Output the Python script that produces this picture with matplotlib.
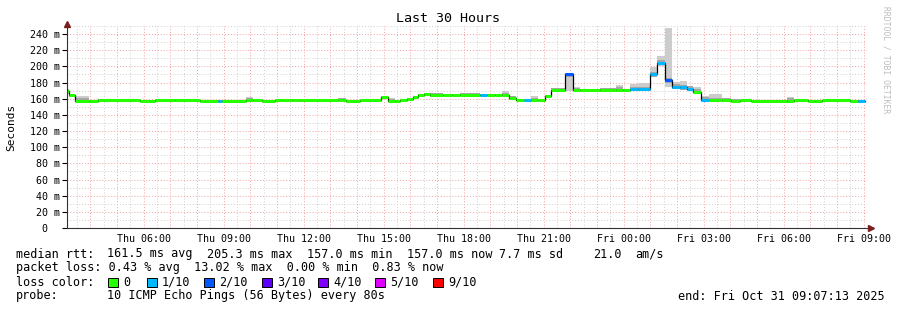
import numpy as np
import matplotlib
matplotlib.use("Agg")
import matplotlib.pyplot as plt
from matplotlib.patches import Rectangle
from matplotlib.ticker import FixedLocator, FuncFormatter

plt.rcParams['font.family'] = ['DejaVu Sans Mono']

# segment start, hours since Thu 00:00
seg_start = [3.12, 3.20, 3.42, 3.95, 4.28, 5.86, 6.42, 7.17, 8.11, 8.78, 8.93,
             9.83, 10.10, 10.43, 10.92, 11.56, 11.86, 13.28, 13.58, 14.11, 14.90,
             15.16, 15.42, 15.61, 15.87, 16.10, 16.28, 16.51, 16.73, 17.22, 17.56,
             17.86, 18.61, 18.87, 19.17, 19.43, 19.70, 19.96, 20.26, 20.52, 20.78,
             21.05, 21.27, 21.80, 22.10, 22.36, 23.11, 23.71, 23.97, 24.23, 24.53,
             24.98, 25.25, 25.55, 25.81, 26.11, 26.37, 26.60, 26.90, 27.20, 27.68,
             28.02, 28.36, 28.77, 30.12, 30.38, 30.91, 31.17, 31.43, 32.48, 32.78]
seg_end = 33.05
# median rtt (ms)
median = [170, 164, 157.5, 157.5, 158.5, 157.5, 158.3, 158, 157.5, 157.5, 157.5,
          158, 158, 157.5, 158.3, 157.8, 158, 158, 157.5, 157.8, 162,
          157, 157, 158.5, 159.5, 162, 164.5, 166, 164, 164, 164,
          164, 164, 164, 164, 164, 161, 158.4, 158.4, 158.4, 158.4,
          163.5, 170.5, 190, 170.5, 170.5, 170.5, 171, 170.5, 171.5, 172,
          190.5, 204.5, 183, 175, 174, 172.5, 168.5, 159, 158.5, 158.3,
          157.7, 158, 157.3, 157.3, 158.3, 157.3, 156.8, 158.3, 157.3, 157.3]
# loss class (index into loss colors)
loss = [0, 0, 0, 0, 0, 0, 0, 0, 0, 1, 0,
        0, 0, 0, 0, 0, 0, 0, 0, 0, 0,
        0, 0, 0, 0, 0, 0, 0, 0, 0, 0,
        0, 1, 0, 0, 0, 0, 0, 1, 0, 0,
        0, 0, 2, 0, 0, 0, 0, 0, 1, 1,
        1, 1, 2, 1, 1, 1, 0, 1, 0, 0,
        0, 0, 0, 0, 0, 0, 0, 0, 0, 1]
# smoke range (min / max ping)
smoke_lo = [166, 162, 156, 156.5, 157, 156.5, 157, 157, 156.5, 156.5, 156.5,
            157, 157, 156.5, 157, 157, 157, 157, 156.5, 157, 160,
            156, 156, 157.5, 158, 160.5, 163, 164.5, 162.5, 163, 163,
            163, 163, 163, 163, 163, 159, 157, 157, 157, 157,
            162, 169, 170, 169, 169, 169, 169, 169, 169.5, 170,
            187, 200, 175, 171.5, 171, 170, 167, 157, 157, 157,
            156.5, 157, 156.5, 156.5, 157.5, 156.5, 156, 157.5, 156.5, 156.5]
smoke_hi = [172, 166, 163, 159, 159.5, 158.5, 159, 158.5, 158.5, 158.5, 158.5,
            162, 159, 158.5, 159, 158.5, 158.5, 161, 158.5, 158.5, 163,
            161, 158, 159.5, 161, 163, 165.5, 167, 167, 165.5, 166,
            167, 166, 166, 166, 169.5, 163, 159, 159, 163.5, 159,
            165, 173, 191.5, 174, 172, 173, 177, 172, 178, 179,
            199.5, 213, 248, 181, 182, 176, 175, 163, 165.5, 161,
            160, 159, 158.5, 161.7, 159, 158.5, 157.5, 159, 158.5, 158.5]

loss_colors = ['#26ff00', '#00b8ff', '#0059ff', '#5e00ff', '#7e00ff', '#dd00ff', '#ff0000']
loss_labels = ['0', '1/10', '2/10', '3/10', '4/10', '5/10', '9/10']

t_start = 3 + 7 / 60 + 13 / 3600
t_end = t_start + 30

W, H = 897, 310
fig = plt.figure(figsize=(W / 100, H / 100), dpi=100)
ax = fig.add_axes([67 / W, 82 / H, 800 / W, 202 / H])

x = np.array(seg_start + [seg_end])
med = np.array(median + [median[-1]])
lo = np.array(smoke_lo + [smoke_lo[-1]])
hi = np.array(smoke_hi + [smoke_hi[-1]])
dlo = np.maximum(lo, med - 3)
dhi = np.minimum(hi, med + 3)

ax.fill_between(x, lo, hi, step='post', color='#cccccc', lw=0)
ax.fill_between(x, dlo, dhi, step='post', color='#a6a6a6', lw=0)
ax.step(x, med, where='post', color='black', lw=0.9)
ax.hlines(median, seg_start, seg_start[1:] + [seg_end],
          colors=[loss_colors[i] for i in loss], lw=2.2, capstyle='butt')

ax.set_xlim(t_start, t_end)
ax.set_ylim(0, 250)

# grid
ax.xaxis.set_major_locator(FixedLocator(np.arange(4, 34, 1)))
ax.xaxis.set_minor_locator(FixedLocator(np.arange(3.5, 33.5, 1)))
ax.yaxis.set_major_locator(FixedLocator(np.arange(0, 241, 20)))
ax.yaxis.set_minor_locator(FixedLocator(np.arange(10, 251, 20)))
ax.grid(which='major', color='#f3a0a0', lw=0.7, ls=(0, (1, 2)))
ax.grid(which='minor', color='#cfcfcf', lw=0.7, ls=(0, (1, 2)))
ax.set_axisbelow(True)


def xfmt(h, pos):
    h = int(round(h))
    if h % 3:
        return ''
    return '%s %02d:00' % ('Thu' if h < 24 else 'Fri', h % 24)


def yfmt(v, pos):
    return '0  ' if v == 0 else '%d m' % v


ax.xaxis.set_major_formatter(FuncFormatter(xfmt))
ax.yaxis.set_major_formatter(FuncFormatter(yfmt))
ax.tick_params(axis='x', which='both', length=0, pad=4, labelsize=7.2)
ax.tick_params(axis='y', which='major', length=3.5, width=0.8, pad=1.5, labelsize=7.2)
ax.tick_params(axis='y', which='minor', length=0)

for s in ['top', 'right']:
    ax.spines[s].set_visible(False)
ax.spines['left'].set_color('#333333')
ax.spines['bottom'].set_color('#333333')
ax.plot([0], [1.01], marker='^', ms=4, color='#7a1f1f', transform=ax.transAxes, clip_on=False)
ax.plot([1.005], [0], marker='>', ms=4, color='#7a1f1f', transform=ax.transAxes, clip_on=False)

fig.text(448 / W, 1 - 19 / H, 'Last 30 Hours', ha='center', va='center', fontsize=9.6)
fig.text(11 / W, 1 - 127 / H, 'Seconds', rotation=90, ha='center', va='center', fontsize=8)
fig.text(886 / W, 1 - 60 / H, 'RRDTOOL / TOBI OETIKER', rotation=270, ha='center',
         va='center', fontsize=5.8, color='#bdbdbd')

fs = 8.5
row1 = [('median rtt:', 16), ('161.5 ms avg', 107), ('205.3 ms max', 207),
        ('157.0 ms min', 307), ('157.0 ms now', 407), ('7.7 ms sd', 499),
        ('21.0', 593), ('am/s', 635)]
for txt, px in row1:
    fig.text(px / W, 1 - 254 / H, txt, ha='left', va='center', fontsize=fs)
fig.text(16 / W, 1 - 268 / H, 'packet loss: 0.43 % avg  13.02 % max  0.00 % min  0.83 % now',
         ha='left', va='center', fontsize=fs)
fig.text(16 / W, 1 - 282 / H, 'loss color:', ha='left', va='center', fontsize=fs)
box_x = [108, 147, 204, 262, 318, 375, 433]
for bx, c, lab in zip(box_x, loss_colors, loss_labels):
    fig.add_artist(Rectangle((bx / W, 1 - 287 / H), 10 / W, 9 / H, transform=fig.transFigure,
                             facecolor=c, edgecolor='black', lw=0.7))
    fig.text((bx + 15) / W, 1 - 282 / H, lab, ha='left', va='center', fontsize=fs)
fig.text(16 / W, 1 - 296 / H, 'probe:', ha='left', va='center', fontsize=fs)
fig.text(107 / W, 1 - 296 / H, '10 ICMP Echo Pings (56 Bytes) every 80s',
         ha='left', va='center', fontsize=fs)
fig.text(678 / W, 1 - 296 / H, 'end: Fri Oct 31 09:07:13 2025', ha='left', va='center', fontsize=fs)

fig.savefig('out.png', dpi=100)
